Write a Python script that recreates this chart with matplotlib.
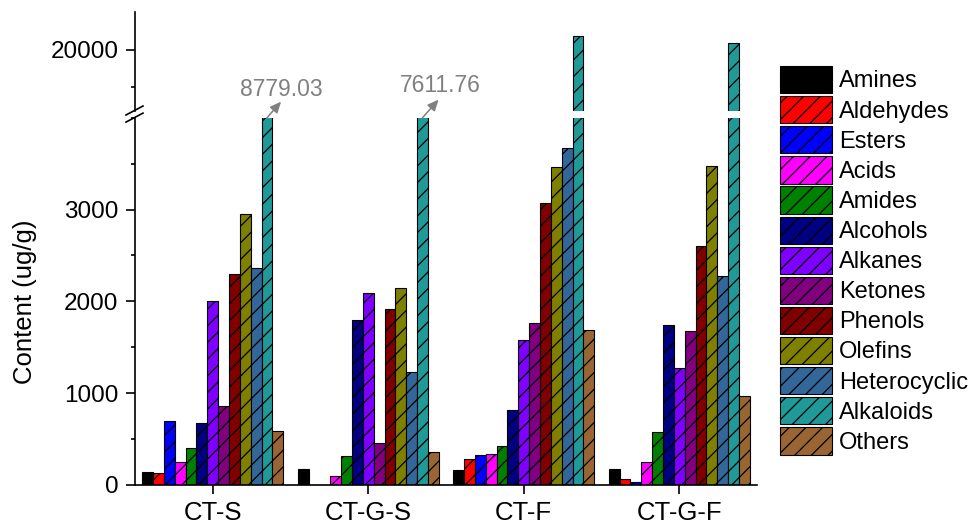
import numpy as np
import matplotlib
matplotlib.use("Agg")
import matplotlib.pyplot as plt
from matplotlib.ticker import MultipleLocator

plt.rcParams['font.family'] = ['Liberation Sans', 'DejaVu Sans']
plt.rcParams['hatch.linewidth'] = 0.9

groups = ['CT-S', 'CT-G-S', 'CT-F', 'CT-G-F']
classes = ['Amines', 'Aldehydes', 'Esters', 'Acids', 'Amides', 'Alcohols', 'Alkanes',
           'Ketones', 'Phenols', 'Olefins', 'Heterocyclic', 'Alkaloids', 'Others']
colors = ['#000000', '#FF0000', '#0000FF', '#FF00FF', '#008000', '#000080', '#8000FF',
          '#800080', '#800000', '#808000', '#336699', '#209999', '#996633']

# content (ug/g), one list per compound class, order CT-S, CT-G-S, CT-F, CT-G-F
amines = [142, 174, 164, 171]
aldehydes = [135, 0, 280, 62]
esters = [695, 0, 324, 33]
acids = [247, 98, 338, 251]
amides = [400, 320, 422, 581]
alcohols = [676, 1800, 815, 1745]
alkanes = [2003, 2094, 1581, 1276]
ketones = [858, 455, 1767, 1672]
phenols = [2300, 1912, 3075, 2606]
olefins = [2955, 2148, 3468, 3479]
heterocyclic = [2366, 1229, 3675, 2279]
alkaloids = [8779.03, 7611.76, 20185, 20085]
others = [589, 363, 1687, 970]
values = [amines, aldehydes, esters, acids, amides, alcohols, alkanes,
          ketones, phenols, olefins, heterocyclic, alkaloids, others]

fig = plt.figure(figsize=(9.72, 5.25), dpi=100)
ax = fig.add_axes([0.1389, 0.0762, 0.6399, 0.6996])
ax_top = fig.add_axes([0.1389, 0.789, 0.6399, 0.188])
ax_top.patch.set_visible(False)

x = np.arange(len(groups))
w = 0.0698
for i, (name, vals) in enumerate(zip(classes, values)):
    pos = x + (i - 6) * w
    for a in (ax, ax_top):
        a.bar(pos, vals, w, color=colors[i], edgecolor='black', linewidth=0.8,
              hatch='' if i == 0 else '//', label=name if a is ax else None)

ax.set_ylim(0, 4000)
ax_top.set_ylim(19190, 20495)
for a in (ax, ax_top):
    a.set_xlim(-0.5, 3.5)
    a.spines['top'].set_visible(False)
    a.spines['right'].set_visible(False)
    a.spines['left'].set_linewidth(1.2)
    a.yaxis.set_major_locator(MultipleLocator(1000))
    a.yaxis.set_minor_locator(MultipleLocator(500))
    a.tick_params(axis='y', which='major', length=6.5, width=1.2, labelsize=17.5, pad=5.5)
    a.tick_params(axis='y', which='minor', length=3.2, width=1.2)
ax_top.spines['bottom'].set_visible(False)
ax_top.set_xticks([])
ax.spines['bottom'].set_linewidth(1.2)
ax.set_xticks(x)
ax.set_xticklabels(groups)
ax.tick_params(axis='x', length=6.5, width=1.2, labelsize=18.5, pad=5)
ax.set_yticks([0, 1000, 2000, 3000])
ax_top.set_yticks([20000])

ax.set_ylabel('Content (ug/g)', fontsize=18.5)
ax.yaxis.set_label_coords(-0.158, 0.5)

# break marks on the y axis
for yy in (0.0, 0.0135):
    fig.add_artist(plt.Line2D([126 / 972, 143 / 972],
                              [1 - (115 + yy * 525) / 525, 1 - (106 + yy * 525) / 525],
                              color='black', lw=1.2))

# labels for the truncated alkaloid bars
for gi, (dx, dy, tx, ty) in zip([0, 1], [(14, 16, 14, 28), (16, 18, 18, 32)]):
    bx = x[gi] + (11 - 6) * w
    ax.annotate('', xy=(bx, 4000), xytext=(dx, dy), textcoords='offset pixels',
                xycoords='data', annotation_clip=False,
                arrowprops=dict(arrowstyle='<|-,head_length=0.55,head_width=0.25',
                                color='#808080', lw=1.1, mutation_scale=12,
                                shrinkA=0, shrinkB=0))
    ax.annotate(f'{alkaloids[gi]:.2f}', xy=(bx, 4000), xytext=(tx, ty),
                textcoords='offset pixels', ha='center', va='center',
                fontsize=16.5, color='#808080', annotation_clip=False)

ax.legend(loc='upper left', bbox_to_anchor=(780 / 972, 1 - 66 / 525),
          bbox_transform=fig.transFigure, frameon=False, fontsize=17,
          handlelength=2.2, handleheight=1.4, handletextpad=0.3,
          labelspacing=0.12, borderaxespad=0, borderpad=0)

fig.savefig('out.png', dpi=100)
